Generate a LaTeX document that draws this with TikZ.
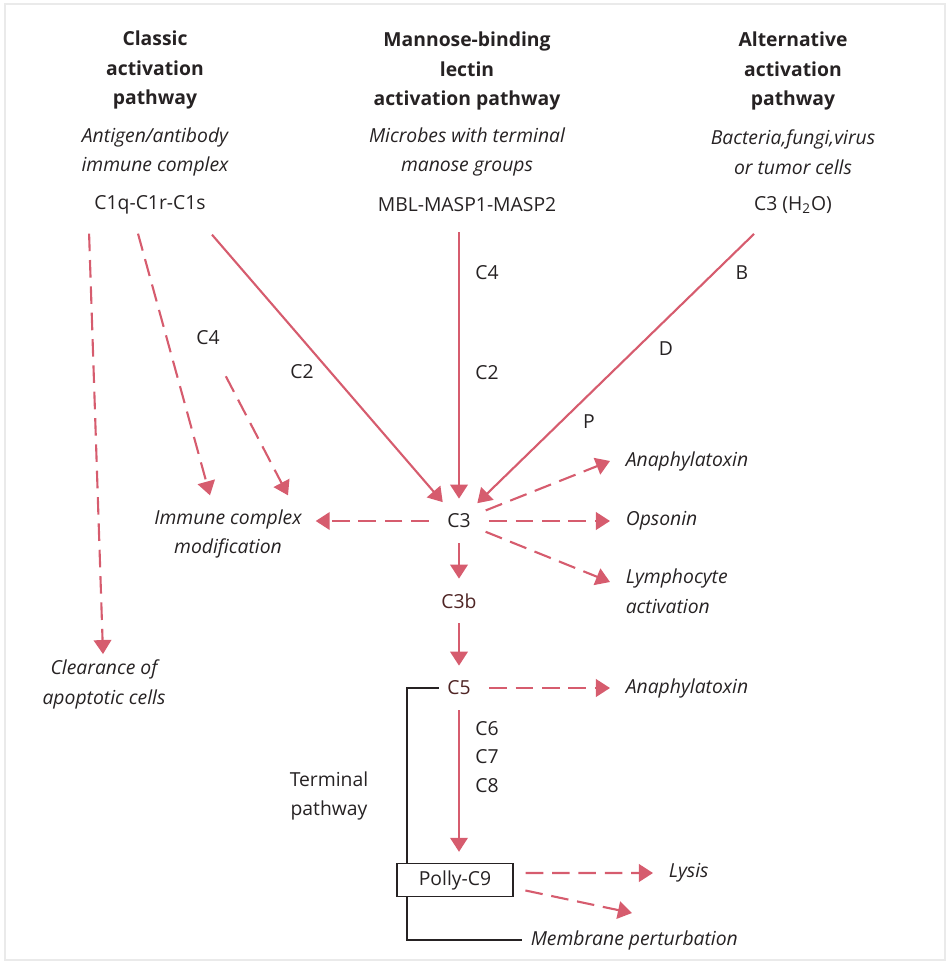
\documentclass[tikz,border=0pt]{standalone}
\usepackage{fontspec}
\setmainfont{Open Sans}
\definecolor{pathred}{RGB}{214,92,110}
\definecolor{inkdark}{RGB}{38,34,35}
\definecolor{molbrown}{RGB}{78,36,36}
\definecolor{framegray}{RGB}{234,234,234}
\usepackage{tikz}
\usetikzlibrary{arrows.meta, positioning, shapes.geometric, backgrounds}

\begin{document}
\begin{tikzpicture}[x=0.02cm,y=-0.02cm,text=inkdark,
        font=\fontsize{11}{17}\selectfont,
        head/.style={font=\bfseries\fontsize{11}{17}\selectfont,align=center},
        cause/.style={font=\itshape\fontsize{11}{17}\selectfont,align=center},
        effect/.style={font=\itshape\fontsize{11}{17}\selectfont,align=left,
                       anchor=west,inner sep=0pt,outer sep=9pt},
        mol/.style={ellipse,minimum width=1.2cm,minimum height=0.88cm,inner sep=0pt},
        flow/.style={draw=pathred,line width=1.2pt,
                     -{Triangle[width=10pt,length=8pt]}},
        side/.style={flow,dash pattern=on 10pt off 5pt},
        term/.style={draw=inkdark,line width=1.2pt}]
      \useasboundingbox (0,0) rectangle (950,964);
      \draw[framegray,line width=1.5pt] (5,4) rectangle (945,960);

      % the three activation pathways
      \node[head] (clh) at (155,70) {Classic\\activation\\pathway};
      \node[cause] (clc) at (155,152) {Antigen/antibody\\immune complex};
      \node[inner sep=0pt] (cl) at (150,205) {C1q-C1r-C1s};

      \node[head] (mbh) at (467,71) {Mannose-binding\\lectin\\activation pathway};
      \node[cause] (mbc) at (467,152) {Microbes with terminal\\manose groups};
      \node[inner sep=0pt] (mbl) at (467,205) {MBL-MASP1-MASP2};

      \node[head] (alh) at (793,71) {Alternative\\activation\\pathway};
      \node[cause] (alc) at (793,152) {Bacteria,fungi,virus\\or tumor cells};
      \node[inner sep=0pt] (alt) at (793,205) {C3 (H\textsubscript{2}O)};

      % central cascade
      \node[mol] (c3) at (459,521) {C3};
      \node[mol,text=molbrown] (c3b) at (459,601) {C3b};
      \node[mol,text=molbrown] (c5) at (459,688) {C5};
      \node[draw=inkdark,line width=0.8pt,fill=white,minimum width=2.32cm,
            minimum height=0.66cm] (pc9) at (455,880) {Polly-C9};

      % labels on the arrows
      \node (c4a) at (208,338) {C4};
      \node (c2a) at (302,372) {C2};
      \node (c4b) at (487,273) {C4};
      \node (c2b) at (487,373) {C2};
      \node (fb) at (742,273) {B};
      \node (fd) at (666,349) {D};
      \node (fp) at (589,422) {P};
      \node[align=left,font=\fontsize{11}{16}\selectfont] (c678) at (487,757) {C6\\C7\\C8};
      \node[align=center] (tp) at (329,796) {Terminal\\pathway};

      % outcomes
      \node[cause,inner sep=0pt,outer sep=3pt] (clr) at (104,684) {Clearance of\\apoptotic cells};
      \node[cause,inner sep=0pt,outer sep=8pt] (imc) at (228,534) {Immune complex\\modification};
      \node[effect] (ana1) at (610,461) {Anaphylatoxin};
      \node[effect] (ops) at (610,521) {Opsonin};
      \node[effect] (lym) at (610,591) {Lymphocyte\\activation};
      \node[effect] (ana2) at (610,688) {Anaphylatoxin};
      \node[effect] (lys) at (653,873) {Lysis};
      \node[effect,outer sep=5pt] (mem) at (522,940) {Membrane perturbation};
      \coordinate (mpt) at (632,913);

      % connectors
      \draw[side] ([xshift=-0.1cm,yshift=-0.38cm]cl.south west) -- (clr);
      \draw[side] ([xshift=-0.24cm,yshift=-0.38cm]cl.south) -- ([xshift=-0.36cm]imc.north);
      \draw[side] ([yshift=-0.5cm]c4a.south east) -- ([xshift=1.2cm]imc.north);
      \draw[flow] ([xshift=1.24cm,yshift=-0.4cm]cl.south) -- (c3);
      \draw[flow,shorten <=0.4cm] (c3 |- mbl.south) -- (c3);
      \draw[flow] ([xshift=-0.78cm,yshift=-0.4cm]alt.south) -- (c3);

      \draw[side] (c3) -- (c3 -| imc.east);
      \draw[side] (c3) -- (ana1.west);
      \draw[side] (c3) -- (ops.west);
      \draw[side] (c3) -- ([yshift=0.18cm]lym.west);
      \draw[flow] (c3) -- (c3b);
      \draw[flow] (c3b) -- (c5);
      \draw[side] (c5) -- (ana2.west);
      \draw[flow,shorten >=0.22cm] (c5) -- (c5 |- pc9.north);
      \draw[side,shorten <=0.24cm] ([yshift=0.14cm]pc9.east) -- (lys.west);
      \draw[side,shorten <=0.24cm] ([yshift=-0.16cm]pc9.east) -- (mpt);

      \begin{scope}[on background layer]
        \draw[term] ([xshift=0.2cm]c5.west) -| ([xshift=0.22cm]pc9.south west)
          |- (mem.west);
      \end{scope}
    \end{tikzpicture}
\end{document}
